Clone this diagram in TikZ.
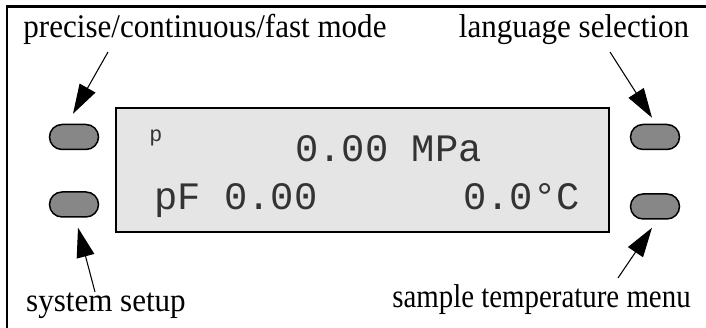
\documentclass[tikz,border=0pt]{standalone}
\usepackage{fontspec}
\setmainfont{Liberation Serif}[FakeStretch=0.94]
\newfontfamily\lcdfont{Liberation Mono}
\usetikzlibrary{arrows.meta, positioning}

\begin{document}
\begin{tikzpicture}[>={Triangle[length=5.9mm,width=3.6mm]}, node distance=0.82cm,
  button/.style={draw, line width=0.85pt, fill=black!47, rounded corners=2.5mm, minimum width=0.98cm, minimum height=0.5cm, inner sep=0pt},
  display/.style={draw, line width=1.2pt, fill=black!10, minimum width=9.86cm, minimum height=2.48cm, inner sep=0pt},
  lcd/.style={font=\lcdfont\fontsize{22.1}{24}\selectfont, text=black!80, inner sep=0pt},
  caption/.style={font=\fontsize{18.8}{21}\selectfont, inner sep=0pt, anchor=base}]

\useasboundingbox (0,0) rectangle (14.12,6.56);

% Frame
\draw[line width=1.7pt] (0.14,-0.5) |- (14.6,6.42);

% Nodes
\node[display] (screen) at (7.25,3.16) {};
\node[button] (modeBtn) at (1.48,3.82) {};
\node[button, below=of modeBtn] (setupBtn) {};
\node[button] (langBtn) at (13.1,3.82) {};
\node[button, below=0.86cm of langBtn] (tempBtn) {};

% Display text
\node[lcd, font=\lcdfont\fontsize{12.3}{14}\selectfont, anchor=base west] (unitMark) at (2.98,3.72) {p};
\node[lcd, anchor=base west] (pressure) at (5.90,3.32) {0.00 MPa};
\node[lcd, anchor=base west] (capacity) at (3.08,2.36) {pF 0.00};
\node[lcd, anchor=base east] (temperature) at (11.6,2.36) {0.0°C};

% Labels
\node[caption] (modeLbl) at (4.10,5.81) {precise/continuous/fast mode};
\node[caption] (langLbl) at (11.48,5.81) {language selection};
\node[caption] (setupLbl) at (2.12,0.33) {system setup};
\node[caption, transform shape, xscale=0.93] (tempLbl) at (10.83,0.40) {sample temperature menu};

% Edges
\coordinate (modeTail) at (2.16,5.52);
\coordinate (langTail) at (12.2,5.52);
\coordinate (setupTail) at (1.9,0.72);
\coordinate (tempTail) at (12.36,1.0);
\draw[->, semithick] (modeTail) -- ([shift={(-0.02,0.2)}]modeBtn.north);
\draw[->, semithick] (langTail) -- ([shift={(-0.06,0.12)}]langBtn.north);
\draw[->, semithick] (setupTail) -- ([shift={(0.08,-0.2)}]setupBtn.south);
\draw[->, semithick] (tempTail) -- ([shift={(-0.06,-0.16)}]tempBtn.south);

\end{tikzpicture}
\end{document}
